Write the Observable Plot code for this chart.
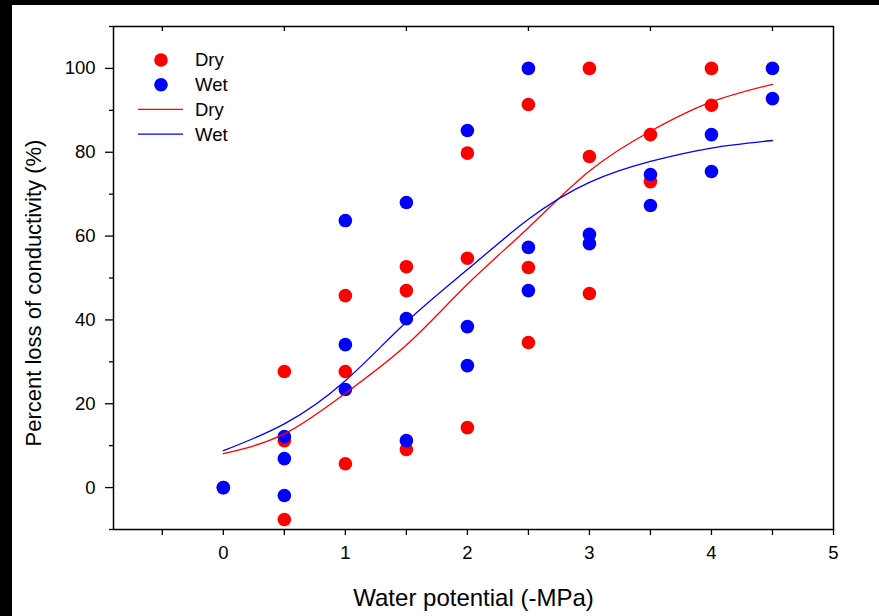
<!DOCTYPE html>
<html>
<head>
<meta charset="utf-8">
<script src="https://cdn.jsdelivr.net/npm/d3@7"></script>
<script src="https://cdn.jsdelivr.net/npm/@observablehq/plot@0.6"></script>
<style>
  html, body { margin: 0; padding: 0; background: #000; width: 879px; height: 616px; overflow: hidden; }
  #chart { position: absolute; left: 12px; top: 5px; width: 867px; height: 611px; background: #fff; }
  #chart svg { display: block; }
</style>
</head>
<body>
<div id="chart"></div>
<script>
// ---- data ----
const dryPotential = [0, 0.5, 0.5, 0.5, 1, 1, 1, 1.5, 1.5, 1.5, 2, 2, 2, 2.5, 2.5, 2.5, 3, 3, 3, 3.5, 3.5, 4, 4];
const dryLoss      = [0, 27.7, 11.2, -7.6, 45.8, 27.7, 5.7, 52.7, 47.0, 9.1, 79.8, 54.7, 14.3, 91.4, 52.5, 34.6, 100, 79.0, 46.3, 84.2, 73.0, 100, 91.2];
const wetPotential = [0, 0.5, 0.5, 0.5, 1, 1, 1, 1.5, 1.5, 1.5, 2, 2, 2, 2.5, 2.5, 2.5, 3, 3, 3.5, 3.5, 4, 4, 4.5, 4.5];
const wetLoss      = [0, 12.2, 6.9, -1.9, 63.7, 34.1, 23.4, 68.0, 40.3, 11.2, 85.2, 38.4, 29.1, 100, 57.3, 47.0, 60.4, 58.2, 74.7, 67.3, 84.2, 75.4, 100, 92.8];

const fitPotential = [0, 0.5, 1, 1.5, 2, 2.5, 3, 3.5, 4, 4.5];
const dryFit       = [8.1, 12.8, 22.5, 34, 48.5, 62, 75.5, 85, 92, 96.2];
const wetFit       = [8.8, 15.2, 25.5, 39.5, 52, 64, 72.8, 77.8, 81, 82.8];

const xLabelTicks  = [0, 1, 2, 3, 4, 5];
const xMinorTicks  = [-0.5, 0.5, 1.5, 2.5, 3.5, 4.5];
const yLabelTicks  = [0, 20, 40, 60, 80, 100];
const yMinorTicks  = [-10, 10, 30, 50, 70, 90, 110];

const seriesNames  = ["Dry", "Wet"];
const seriesColors = ["#ff0000", "#0000ff"];
const xTitle = "Water potential (-MPa)";
const yTitle = "Percent loss of conductivity (%)";

// ---- tables ----
const dryPts = dryPotential.map((x, i) => ({x, y: dryLoss[i]}));
const wetPts = wetPotential.map((x, i) => ({x, y: wetLoss[i]}));
const dryLine = fitPotential.map((x, i) => ({x, y: dryFit[i]}));
const wetLine = fitPotential.map((x, i) => ({x, y: wetFit[i]}));

const font = "'Liberation Sans', Arial, sans-serif";

const plot = Plot.plot({
  width: 867,
  height: 611,
  marginLeft: 101,
  marginRight: 46,
  marginTop: 21,
  marginBottom: 87,
  style: {fontFamily: font, fontSize: "18px", color: "#000", background: "#fff", overflow: "visible"},
  x: {domain: [-0.9, 5], label: null},
  y: {domain: [-10, 110], label: null},
  marks: [
    Plot.axisX({ticks: xLabelTicks, tickSize: 6, tickPadding: 10, fontSize: 18.5, strokeWidth: 1.3, tickFormat: d => String(d), label: null}),
    Plot.axisX({ticks: xMinorTicks, tickSize: 6, tickFormat: () => "", strokeWidth: 1.3, label: null}),
    Plot.axisX({anchor: "top", ticks: xMinorTicks, tickSize: 4, dy: 4, tickFormat: () => "", strokeWidth: 1.3, label: null}),
    Plot.axisY({ticks: yLabelTicks, tickSize: 8, tickPadding: 10, fontSize: 18.5, strokeWidth: 1.3, tickFormat: d => String(d), label: null}),
    Plot.axisY({ticks: yMinorTicks, tickSize: 4, tickFormat: () => "", strokeWidth: 1.3, label: null}),
    Plot.frame({stroke: "#000", strokeWidth: 1.5}),
    Plot.dot(dryPts, {x: "x", y: "y", r: 6.8, fill: seriesColors[0], stroke: "none"}),
    Plot.dot(wetPts, {x: "x", y: "y", r: 6.8, fill: seriesColors[1], stroke: "none"}),
    Plot.line(dryLine, {x: "x", y: "y", curve: "natural", stroke: seriesColors[0], strokeWidth: 1.3}),
    Plot.line(wetLine, {x: "x", y: "y", curve: "natural", stroke: seriesColors[1], strokeWidth: 1.3}),
    Plot.text([xTitle], {frameAnchor: "bottom", dy: 76, fontSize: 24, fill: "#000", textAnchor: "middle"}),
    Plot.text([yTitle], {frameAnchor: "left", dx: -80, dy: 15, rotate: -90, fontSize: 22, fill: "#000", textAnchor: "middle"})
  ]
});

document.getElementById("chart").appendChild(plot);

// ---- legend (inside the plot, top-left) ----
const svg = d3.select(plot);
const lg = svg.append("g").attr("font-family", font).attr("font-size", 18.5).attr("text-anchor", "start");
const legendItems = [
  {kind: "dot", name: seriesNames[0], color: seriesColors[0]},
  {kind: "dot", name: seriesNames[1], color: seriesColors[1]},
  {kind: "line", name: seriesNames[0], color: seriesColors[0]},
  {kind: "line", name: seriesNames[1], color: seriesColors[1]}
];
const lx = 149, ly0 = 55, lstep = 24.7;
legendItems.forEach((d, i) => {
  const y = ly0 + i * lstep;
  if (d.kind === "dot") {
    lg.append("circle").attr("cx", lx).attr("cy", y).attr("r", 6.8).attr("fill", d.color);
  } else {
    lg.append("line").attr("x1", lx - 23).attr("x2", lx + 22).attr("y1", y).attr("y2", y)
      .attr("stroke", d.color).attr("stroke-width", 1.3);
  }
  lg.append("text").attr("x", 183).attr("y", y).attr("dy", "0.35em").attr("fill", "#000").text(d.name);
});
</script>
</body>
</html>
